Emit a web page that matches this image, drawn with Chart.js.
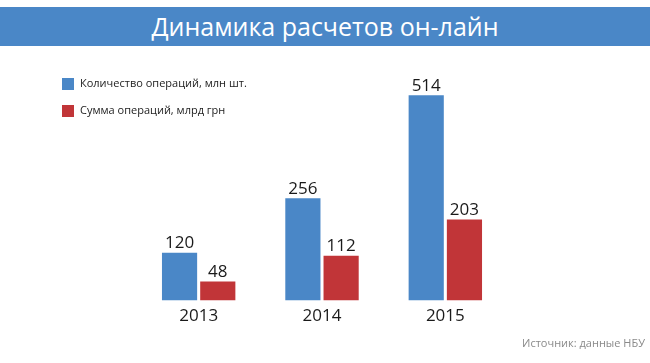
<!DOCTYPE html>
<html>
<head>
<meta charset="utf-8">
<script src="https://cdn.jsdelivr.net/npm/chart.js@4"></script>
<style>
  body { margin: 0; background: #fff; }
  #wrap { position: relative; width: 650px; height: 363px; font-family: "Open Sans", sans-serif; }
  #title {
    position: absolute; left: 0; top: 7px; width: 650px; height: 39px;
    background: #4a87c7; color: #fff; font-size: 25px; line-height: 38px; text-align: center;
  }
  #source { position: absolute; right: 5px; top: 335px; font-size: 11px; color: #8a8a8a; }
  canvas { position: absolute; left: 0; top: 0; }
</style>
</head>
<body>
<div id="wrap">
  <canvas id="chart" width="650" height="363"></canvas>
  <div id="title">Динамика расчетов он-лайн</div>
  <div id="source">Источник: данные НБУ</div>
</div>
<script>
// data
const years = ['2013', '2014', '2015'];
const operationsCount = [120, 256, 514]; // млн шт.
const operationsSum = [48, 112, 203];    // млрд грн
const seriesNames = ['Количество операций, млн шт.', 'Сумма операций, млрд грн'];

// value labels over bars
const valueLabels = {
  id: 'valueLabels',
  afterDatasetsDraw(chart) {
    const ctx = chart.ctx;
    ctx.save();
    ctx.font = '17px "Open Sans"';
    ctx.fillStyle = '#1a1a1a';
    ctx.textAlign = 'center';
    ctx.textBaseline = 'bottom';
    chart.data.datasets.forEach((ds, i) => {
      chart.getDatasetMeta(i).data.forEach((bar, j) => {
        ctx.fillText(ds.data[j], bar.x, bar.y - 1);
      });
    });
    ctx.restore();
  }
};

// legend at the top left, one item per line
const sideLegend = {
  id: 'sideLegend',
  afterDraw(chart) {
    const ctx = chart.ctx;
    ctx.save();
    ctx.font = '11px "Open Sans"';
    ctx.textBaseline = 'middle';
    chart.data.datasets.forEach((ds, i) => {
      const y = 84 + i * 27;
      ctx.fillStyle = ds.backgroundColor;
      ctx.fillRect(62, y - 6, 12, 12);
      ctx.fillStyle = '#222';
      ctx.fillText(ds.label, 80, y);
    });
    ctx.restore();
  }
};

new Chart(document.getElementById('chart'), {
  type: 'bar',
  data: {
    labels: years,
    datasets: [
      { label: seriesNames[0], data: operationsCount, backgroundColor: '#4a87c7' },
      { label: seriesNames[1], data: operationsSum, backgroundColor: '#c13538' }
    ]
  },
  options: {
    responsive: false,
    animation: false,
    layout: { padding: { top: 61, left: 137, right: 143, bottom: 32 } },
    datasets: { bar: { categoryPercentage: 0.62, barPercentage: 0.92 } },
    plugins: { legend: { display: false }, tooltip: { enabled: false } },
    scales: {
      x: {
        grid: { display: false, drawTicks: false },
        border: { display: false },
        ticks: { color: '#1a1a1a', font: { family: 'Open Sans', size: 17 }, padding: 5 }
      },
      y: { display: false, min: 0, max: 600 }
    }
  },
  plugins: [valueLabels, sideLegend]
});
</script>
</body>
</html>
